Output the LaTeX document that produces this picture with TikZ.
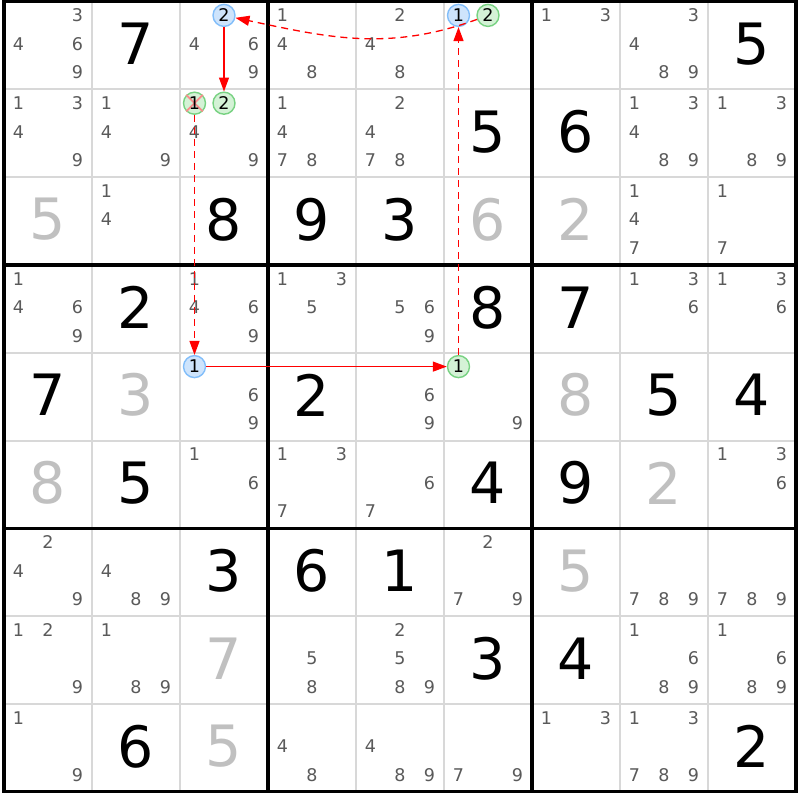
\documentclass[tikz,border=0pt]{standalone}
\usepackage{fontspec}
\setmainfont{DejaVu Sans}
\usetikzlibrary{arrows.meta}
\definecolor{candgray}{RGB}{90,90,90}
\definecolor{solvedgray}{RGB}{192,192,192}
\definecolor{gridgray}{RGB}{216,216,216}
\definecolor{bluefill}{RGB}{206,228,252}
\definecolor{blueline}{RGB}{130,190,250}
\definecolor{greenfill}{RGB}{212,242,214}
\definecolor{greenline}{RGB}{120,210,130}
\definecolor{crossred}{RGB}{250,140,140}
\tikzset{>={Triangle[length=14pt,width=10pt]}}

\begin{document}
\begin{tikzpicture}[x=1pt,y=1pt,
    cand/.style={inner sep=0pt, text=candgray, font=\fontsize{17.5}{17.5}\selectfont},
    given/.style={inner sep=0pt, font=\fontsize{57}{57}\selectfont},
    solved/.style={given, text=solvedgray},
    bluecand/.style={circle, draw=blueline, fill=bluefill, line width=1.4pt, minimum size=22pt, inner sep=0pt, font=\fontsize{17.5}{17.5}\selectfont},
    greencand/.style={bluecand, draw=greenline, fill=greenfill},
    stronglink/.style={red, line width=1.3pt, ->},
    weaklink/.style={stronglink, dash pattern=on 7pt off 5pt}]
  \useasboundingbox (0,0) rectangle (800,-800);
  \fill[white] (0,0) rectangle (800,-800);
  \foreach \i in {1,2,4,5,7,8} {
    \draw[gridgray, line width=2pt] ({4+88*\i},-1.5) -- ({4+88*\i},-791.7);
    \draw[gridgray, line width=2pt] (4,{-1.5-87.8*\i}) -- (796,{-1.5-87.8*\i});
  }
  \foreach \i in {0,3,6,9} {
    \draw[black, line width=3.2pt, line cap=rect] ({4+88*\i},-1.5) -- ({4+88*\i},-791.7);
    \draw[black, line width=3.2pt, line cap=rect] (4,{-1.5-87.8*\i}) -- (796,{-1.5-87.8*\i});
  }
  % pencil marks
  \foreach \r/\c/\l in {0/0/{3,4,6,9}, 0/2/{4,6,9}, 0/3/{1,4,8}, 0/4/{2,4,8}, 0/6/{1,3}, 0/7/{3,4,8,9},
      1/0/{1,3,4,9}, 1/1/{1,4,9}, 1/2/{4,9}, 1/3/{1,4,7,8}, 1/4/{2,4,7,8}, 1/7/{1,3,4,8,9}, 1/8/{1,3,8,9},
      2/1/{1,4}, 2/7/{1,4,7}, 2/8/{1,7},
      3/0/{1,4,6,9}, 3/2/{1,4,6,9}, 3/3/{1,3,5}, 3/4/{5,6,9}, 3/7/{1,3,6}, 3/8/{1,3,6},
      4/2/{6,9}, 4/4/{6,9}, 4/5/{9},
      5/2/{1,6}, 5/3/{1,3,7}, 5/4/{6,7}, 5/8/{1,3,6},
      6/0/{2,4,9}, 6/1/{4,8,9}, 6/5/{2,7,9}, 6/7/{7,8,9}, 6/8/{7,8,9},
      7/0/{1,2,9}, 7/1/{1,8,9}, 7/3/{5,8}, 7/4/{2,5,8,9}, 7/7/{1,6,8,9}, 7/8/{1,6,8,9},
      8/0/{1,9}, 8/3/{4,8}, 8/4/{4,8,9}, 8/5/{7,9}, 8/6/{1,3}, 8/7/{1,3,7,8,9}} {
    \foreach \d in \l {
      \node[cand] (cand-\r-\c-\d) at ({48+88*\c+(mod(\d-1,3)-1)*29.5}, {-(43.9+87.8*\r+(int((\d-1)/3)-1)*28.5)}) {\d};
    }
  }
  \foreach \r/\c/\v in {0/1/7, 0/8/5, 1/5/5, 1/6/6, 2/2/8, 2/3/9, 2/4/3, 3/1/2, 3/5/8, 3/6/7,
      4/0/7, 4/3/2, 4/7/5, 4/8/4, 5/1/5, 5/5/4, 5/6/9, 6/2/3, 6/3/6, 6/4/1, 7/5/3, 7/6/4, 8/1/6, 8/8/2} {
    \node[given] (given-\r-\c) at ({48+88*\c}, {-(43.9+87.8*\r)}) {\v};
  }
  \foreach \r/\c/\v in {2/0/5, 2/5/6, 2/6/2, 4/1/3, 4/6/8, 5/0/8, 5/7/2, 6/6/5, 7/2/7, 8/2/5} {
    \node[solved] (solved-\r-\c) at ({48+88*\c}, {-(43.9+87.8*\r)}) {\v};
  }
  % chain
  \node[bluecand] (twoup) at (224,-15.4) {2};
  \node[bluecand] (onetop) at (458.5,-15.4) {1};
  \node[greencand] (twotop) at (488,-15.4) {2};
  \node[greencand] (oneout) at (194.5,-103.2) {};
  \draw[crossred, line width=1.8pt] (oneout.north west) -- (oneout.south east) (oneout.north east) -- (oneout.south west);
  \node[cand, text=black] (oneoutdigit) at (oneout) {1};
  \node[greencand] (twodown) at (224,-103.2) {2};
  \node[bluecand] (oneleft) at (194.5,-366.6) {1};
  \node[greencand] (oneright) at (458.5,-366.6) {1};
  \draw[stronglink] (twoup) -- (twodown);
  \draw[weaklink] (twotop) to[out=200,in=-12] (twoup);
  \draw[weaklink] (oneout) -- (oneleft);
  \draw[stronglink] (oneleft) -- (oneright);
  \draw[weaklink] (oneright) -- (onetop);
\end{tikzpicture}
\end{document}
